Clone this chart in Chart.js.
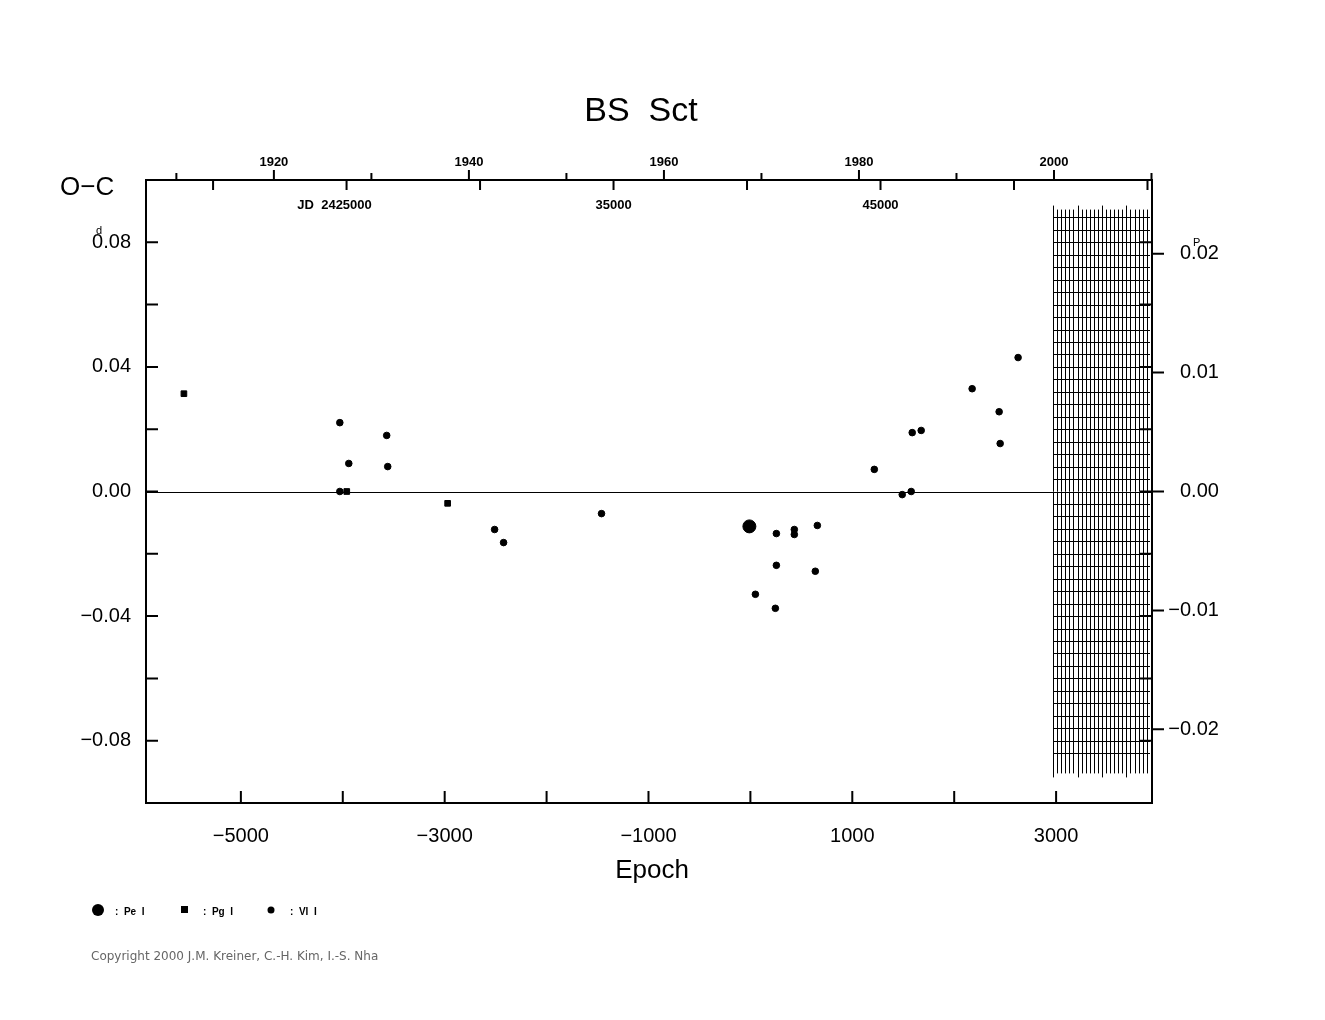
<!DOCTYPE html>
<html>
<head>
<meta charset="utf-8">
<script src="https://cdn.jsdelivr.net/npm/chart.js@4"></script>
<style>
  html, body { margin: 0; padding: 0; background: #fff; }
  #wrap { width: 1325px; height: 1020px; }
</style>
</head>
<body>
<div id="wrap"><canvas id="oc"></canvas></div>
<script>
// O-C data (epoch, O-C in days)
const peEpoch = [-10];
const peOC = [-0.0112];
const pgEpoch = [-5559, -3961, -2971];
const pgOC = [0.0314, 0.0, -0.0038];
const viEpoch = [-4029, -4029, -3941, -3569, -3559, -2510, -2422, -1461, 49, 255, 255, 245, 431, 431, 637, 657, 1216, 1490, 1578, 1588, 1676, 2176, 2441, 2451, 2627];
const viOC = [0.0221, 0.0, 0.009, 0.018, 0.008, -0.0122, -0.0164, -0.0071, -0.033, -0.0135, -0.0237, -0.0375, -0.0122, -0.0138, -0.0256, -0.0109, 0.0071, -0.001, 0.0, 0.0189, 0.0196, 0.033, 0.0256, 0.0154, 0.043];

const bottomTicks = [-5000, -3000, -1000, 1000, 3000];
const leftTicks = [0.08, 0.04, 0.0, -0.04, -0.08];
const rightTicks = [0.02, 0.01, 0.0, -0.01, -0.02];
const yearTicks = [1920, 1940, 1960, 1980, 2000];
const jdTicks = [25000, 35000, 45000];

const PERIOD = 3.817;           // days
const EPOCH_1920 = -4676;       // epoch at 1920.0
const EPOCH_JD35000 = -1343;    // epoch at JD 2435000

const pts = (xs, ys) => xs.map((x, i) => ({ x: x, y: ys[i] }));
const FONT = '"Liberation Sans", Arial, sans-serif';

const framePlugin = {
  id: 'frame',
  beforeDatasetsDraw(chart) {
    const { ctx, chartArea: a, scales: { x, y } } = chart;
    ctx.save();
    ctx.strokeStyle = '#000';
    ctx.lineWidth = 1;
    // hatched region
    const hx0 = x.getPixelForValue(2970), hx1 = a.right - 2;
    const hy0 = y.getPixelForValue(0.0905), hy1 = y.getPixelForValue(-0.0905);
    ctx.beginPath();
    let k = 0;
    for (let e = 2970; x.getPixelForValue(e) <= hx1; e += 40, k++) {
      const px = Math.round(x.getPixelForValue(e)) + 0.5;
      const ext = (k % 6 === 0) ? 4 : 0;
      ctx.moveTo(px, hy0 - ext); ctx.lineTo(px, hy1 + ext);
    }
    for (let v = 0.088; v >= -0.088; v -= 0.004) {
      const py = Math.round(y.getPixelForValue(v)) + 0.5;
      ctx.moveTo(hx0, py); ctx.lineTo(hx1, py);
    }
    ctx.stroke();
    // zero line
    ctx.beginPath();
    const zy = Math.round(y.getPixelForValue(0)) + 0.5;
    ctx.moveTo(a.left, zy); ctx.lineTo(a.right, zy);
    ctx.stroke();
    ctx.restore();
  },
  afterDraw(chart) {
    const { ctx, chartArea: a, scales: { x, y } } = chart;
    ctx.save();
    ctx.strokeStyle = '#000';
    ctx.fillStyle = '#000';
    ctx.lineWidth = 2;
    ctx.strokeRect(a.left, a.top, a.right - a.left, a.bottom - a.top);
    ctx.beginPath();
    // bottom ticks every 1000 epochs, inside
    for (let e = -5000; e <= 3000; e += 1000) {
      const px = x.getPixelForValue(e);
      ctx.moveTo(px, a.bottom); ctx.lineTo(px, a.bottom - 12);
    }
    // left/right inner ticks every 0.02 d
    for (let v = -0.08; v <= 0.081; v += 0.02) {
      const py = y.getPixelForValue(v);
      ctx.moveTo(a.left, py); ctx.lineTo(a.left + 12, py);
      ctx.moveTo(a.right, py); ctx.lineTo(a.right - 12, py);
    }
    // right outer ticks every 0.01 P
    rightTicks.forEach(p => {
      const py = y.getPixelForValue(p * PERIOD);
      ctx.moveTo(a.right, py); ctx.lineTo(a.right + 12, py);
    });
    // top year ticks every 10 yr, outside
    for (let yr = 1910; yr <= 2010; yr += 10) {
      const px = x.getPixelForValue(EPOCH_1920 + (yr - 1920) * 365.25 / PERIOD);
      if (px < a.left || px > a.right) continue;
      const len = (yr % 20 === 0) ? 10 : 7;
      ctx.moveTo(px, a.top); ctx.lineTo(px, a.top - len);
    }
    // top JD ticks every 5000 d, inside
    for (let jd = 20000; jd <= 55000; jd += 5000) {
      const px = x.getPixelForValue(EPOCH_JD35000 + (jd - 35000) / PERIOD);
      if (px < a.left || px > a.right) continue;
      ctx.moveTo(px, a.top); ctx.lineTo(px, a.top + 10);
    }
    ctx.stroke();

    // labels
    ctx.textBaseline = 'middle';
    ctx.font = '20px ' + FONT;
    ctx.textAlign = 'center';
    bottomTicks.forEach(v => ctx.fillText(String(v).replace('-', '\u2212'), x.getPixelForValue(v), a.bottom + 33));
    ctx.textAlign = 'right';
    leftTicks.forEach(v => {
      const s = (v < 0 ? '\u2212' : '') + Math.abs(v).toFixed(2);
      ctx.fillText(s, 131, y.getPixelForValue(v));
    });
    ctx.textAlign = 'left';
    rightTicks.forEach(v => {
      const py = y.getPixelForValue(v * PERIOD);
      const s = Math.abs(v).toFixed(2);
      ctx.fillText(s, 1180, py);
      if (v < 0) { ctx.textAlign = 'right'; ctx.fillText('\u2212', 1180, py); ctx.textAlign = 'left'; }
    });
    // superscripts d and P
    ctx.font = '11px ' + FONT;
    ctx.fillText('d', 96, y.getPixelForValue(0.08) - 11);
    ctx.fillText('P', 1193, y.getPixelForValue(0.02 * PERIOD) - 11);

    ctx.font = 'bold 13px ' + FONT;
    ctx.textAlign = 'center';
    yearTicks.forEach(yr => ctx.fillText(String(yr), x.getPixelForValue(EPOCH_1920 + (yr - 1920) * 365.25 / PERIOD), 162));
    jdTicks.forEach(jd => {
      const px = x.getPixelForValue(EPOCH_JD35000 + (jd - 35000) / PERIOD);
      ctx.fillText(jd === 25000 ? 'JD  2425000' : String(jd), jd === 25000 ? px - 12 : px, 205);
    });

    ctx.font = '34px ' + FONT;
    ctx.fillText('BS  Sct', 641, 112);
    ctx.font = '26px ' + FONT;
    ctx.fillText('Epoch', 652, 871);
    ctx.textAlign = 'left';
    ctx.fillText('O\u2212C', 60, 188);

    // legend
    ctx.beginPath(); ctx.arc(98, 910, 6, 0, 2 * Math.PI); ctx.fill();
    ctx.fillRect(181, 906, 7, 7);
    ctx.beginPath(); ctx.arc(271, 910, 3.5, 0, 2 * Math.PI); ctx.fill();
    ctx.font = 'bold 10px ' + FONT;
    ctx.fillText(':  Pe  I', 115, 912);
    ctx.fillText(':  Pg  I', 203, 912);
    ctx.fillText(':  VI  I', 290, 912);
    ctx.font = '12px "DejaVu Sans", sans-serif';
    ctx.fillStyle = '#666';
    ctx.fillText('Copyright 2000 J.M. Kreiner, C.-H. Kim, I.-S. Nha', 91, 957);
    ctx.restore();
  }
};

new Chart(document.getElementById('oc'), {
  type: 'scatter',
  data: {
    datasets: [
      { label: 'Pe I', data: pts(peEpoch, peOC), pointStyle: 'circle', pointRadius: 6.5, backgroundColor: '#000', borderColor: '#000' },
      { label: 'Pg I', data: pts(pgEpoch, pgOC), pointStyle: 'rect', pointRadius: 4, backgroundColor: '#000', borderColor: '#000' },
      { label: 'VI I', data: pts(viEpoch, viOC), pointStyle: 'circle', pointRadius: 3.3, backgroundColor: '#000', borderColor: '#000' }
    ]
  },
  options: {
    responsive: true,
    maintainAspectRatio: false,
    animation: false,
    devicePixelRatio: 1,
    layout: { padding: { left: 146, right: 173, top: 180, bottom: 217 } },
    plugins: { legend: { display: false }, tooltip: { enabled: false } },
    scales: {
      x: { type: 'linear', min: -5931, max: 3941, display: false },
      y: { type: 'linear', min: -0.1, max: 0.1, display: false }
    }
  },
  plugins: [framePlugin]
});
</script>
</body>
</html>
